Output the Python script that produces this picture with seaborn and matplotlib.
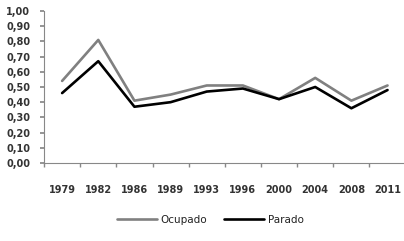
import matplotlib
matplotlib.use("Agg")
import matplotlib.pyplot as plt
import seaborn as sns
import pandas as pd
import numpy as np
from matplotlib.lines import Line2D

years = ["1979", "1982", "1986", "1989", "1993", "1996", "2000", "2004", "2008", "2011"]
ocupado = [0.54, 0.81, 0.41, 0.45, 0.51, 0.51, 0.42, 0.56, 0.41, 0.51]
parado = [0.46, 0.67, 0.37, 0.40, 0.47, 0.49, 0.42, 0.50, 0.36, 0.48]

df = pd.DataFrame({
    "year": years * 2,
    "value": ocupado + parado,
    "serie": ["Ocupado"] * len(years) + ["Parado"] * len(years),
})

sns.set_theme(style="white")
plt.rcParams["font.family"] = ["DejaVu Sans"]

fig = plt.figure(figsize=(4.04, 2.41), dpi=100)
ax = fig.add_axes([0.109, 0.324, 0.895, 0.63])

sns.lineplot(data=df, x="year", y="value", hue="serie",
             palette={"Ocupado": "#808080", "Parado": "#000000"},
             linewidth=1.9, ax=ax, legend=False, sort=False)

ax.set_xlim(-0.5, len(years) - 0.5)
ax.set_ylim(0, 1.0)
ax.set_yticks(np.arange(0, 1.01, 0.1))
ax.set_yticklabels([f"{v:.2f}".replace(".", ",") for v in np.arange(0, 1.01, 0.1)])
ax.set_xticks(range(len(years)))
ax.set_xticklabels(years)
# tick marks sit between categories, like the original
ax.set_xticks(np.arange(-0.5, len(years), 1), minor=True)
ax.tick_params(axis="x", which="major", length=0, pad=16)
ax.tick_params(axis="x", which="minor", length=3, color="#888888", direction="out", bottom=True)
ax.tick_params(axis="y", length=3, color="#888888", direction="out", left=True, pad=7)
for lab in ax.get_xticklabels() + ax.get_yticklabels():
    lab.set_fontsize(7)
    lab.set_fontweight("bold")
    lab.set_color("#333333")

for s in ["top", "right"]:
    ax.spines[s].set_visible(False)
for s in ["left", "bottom"]:
    ax.spines[s].set_color("#888888")
    ax.spines[s].set_linewidth(0.8)
ax.set_xlabel("")
ax.set_ylabel("")

handles = [Line2D([], [], color="#808080", lw=1.9), Line2D([], [], color="#000000", lw=1.9)]
leg = fig.legend(handles, ["Ocupado", "Parado"], loc="center", bbox_to_anchor=(0.52, 0.088),
                 ncol=2, frameon=False, fontsize=7.5, handlelength=3.9, columnspacing=1.6,
                 handletextpad=0.3)
for t in leg.get_texts():
    t.set_color("#222222")

fig.savefig("out.png", dpi=100)
